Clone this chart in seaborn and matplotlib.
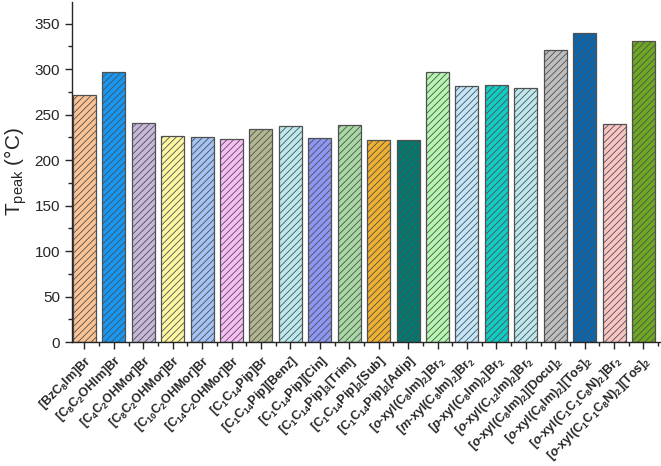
import pandas as pd
import matplotlib.pyplot as plt
import seaborn as sns
from matplotlib.ticker import MultipleLocator

# data
labels = [
    r'[BzC$_8$Im]Br',
    r'[C$_8$C$_2$OHIm]Br',
    r'[C$_4$C$_2$OHMor]Br',
    r'[C$_8$C$_2$OHMor]Br',
    r'[C$_{10}$C$_2$OHMor]Br',
    r'[C$_{14}$C$_2$OHMor]Br',
    r'[C$_1$C$_{14}$Pip]Br',
    r'[C$_1$C$_{14}$Pip][Benz]',
    r'[C$_1$C$_{14}$Pip][Cin]',
    r'[C$_1$C$_{14}$Pip]$_3$[Trim]',
    r'[C$_1$C$_{14}$Pip]$_2$[Sub]',
    r'[C$_1$C$_{14}$Pip]$_2$[Adip]',
    r'[$\mathit{o}$-xyl(C$_8$Im)$_2$]Br$_2$',
    r'[$\mathit{m}$-xyl(C$_8$Im)$_2$]Br$_2$',
    r'[$\mathit{p}$-xyl(C$_8$Im)$_2$]Br$_2$',
    r'[$\mathit{o}$-xyl(C$_{12}$Im)$_2$]Br$_2$',
    r'[$\mathit{o}$-xyl(C$_8$Im)$_2$][Docu]$_2$',
    r'[$\mathit{o}$-xyl(C$_8$Im)$_2$][Tos]$_2$',
    r'[$\mathit{o}$-xyl(C$_1$C$_1$C$_8$N)$_2$]Br$_2$',
    r'[$\mathit{o}$-xyl(C$_1$C$_1$C$_8$N)$_2$][Tos]$_2$',
]
t_peak = [272, 297, 241, 226, 225, 223, 234, 237, 224, 239,
          222, 222, 297, 282, 283, 279, 321, 340, 240, 331]
colors = ['#FBC393', '#1597F3', '#C7B8DA', '#FDF7A0', '#A3C2F5',
          '#F9BDF5', '#B3B790', '#BBE9EE', '#8C96F5', '#A8D9A3',
          '#F0B030', '#007A70', '#B5F7B0', '#C2E6FA', '#10CCC4',
          '#BCE8EE', '#BEBEBE', '#0866B0', '#FCC5C5', '#6FA822']

df = pd.DataFrame({'IL': labels, 'T': t_peak})

sns.set_style('ticks')
plt.rcParams.update({
    'font.family': ['Liberation Sans', 'DejaVu Sans'],
    'mathtext.fontset': 'custom',
    'mathtext.rm': 'Liberation Sans',
    'mathtext.it': 'Liberation Sans:italic:bold',
    'mathtext.bf': 'Liberation Sans:bold',
    'mathtext.default': 'bf',
    'hatch.linewidth': 0.6,
    'axes.linewidth': 1.0,
})

fig = plt.figure(figsize=(6.61, 4.66), dpi=100)
ax = fig.add_axes([0.109, 0.266, 0.889, 0.730])

sns.barplot(data=df, x='IL', y='T', hue='IL', palette=colors, legend=False,
            width=0.78, edgecolor='#505050', linewidth=0.9, ax=ax, saturation=1)
for p in ax.patches:
    p.set_hatch('/////')

ax.set_xlim(-0.42, 19.55)
ax.set_ylim(0, 374)
ax.yaxis.set_major_locator(MultipleLocator(50))
ax.yaxis.set_minor_locator(MultipleLocator(25))
ax.xaxis.set_minor_locator(MultipleLocator(0.5))
ax.tick_params(axis='both', which='major', length=5, width=1, direction='out')
ax.tick_params(axis='both', which='minor', length=3, width=1, direction='out')
ax.tick_params(axis='y', labelsize=11)

ax.set_xticks(range(len(labels)))
ax.set_xticklabels(labels, rotation=45, ha='right', rotation_mode='anchor',
                   fontsize=9, fontweight='bold')
ax.tick_params(axis='x', pad=3)

ax.set_xlabel('')
ax.set_ylabel(r'T$_{\rm peak}$ (°C)', fontsize=15, labelpad=4)
sns.despine(ax=ax)

fig.savefig('out.png', dpi=100)
